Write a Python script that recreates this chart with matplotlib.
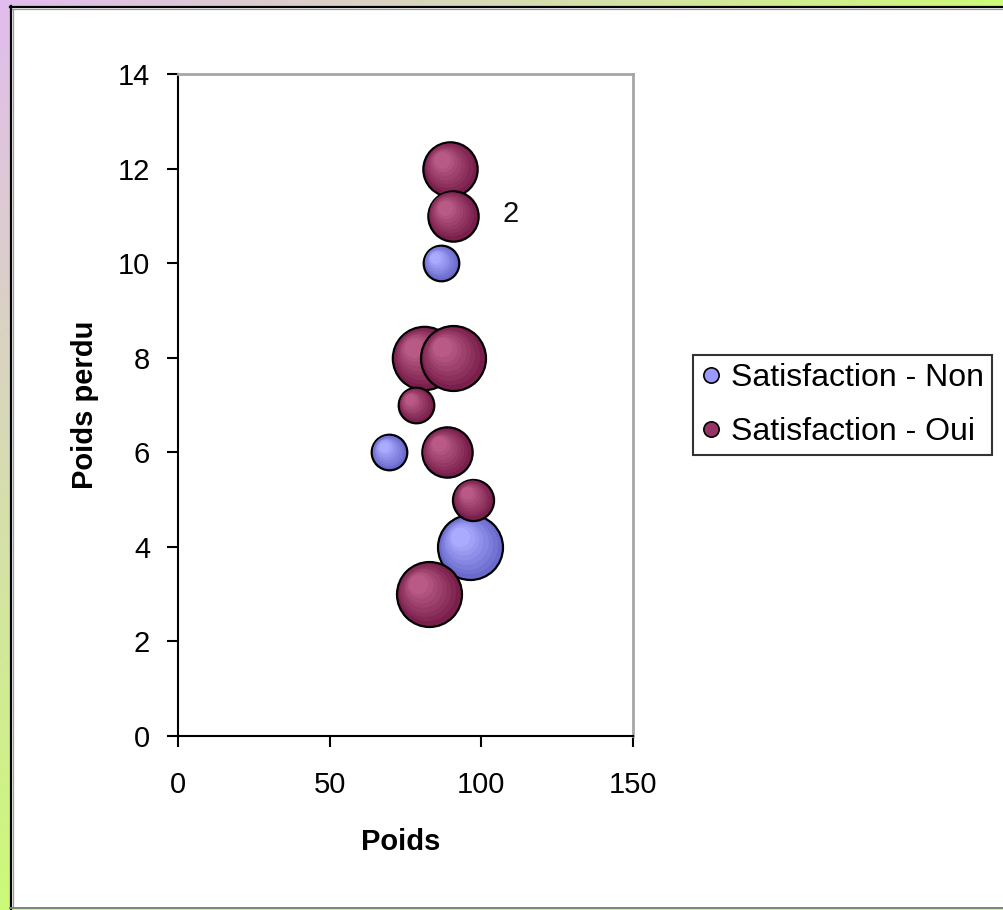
import numpy as np
import matplotlib
matplotlib.use("Agg")
import matplotlib.pyplot as plt
from matplotlib.colors import to_rgb
from matplotlib.lines import Line2D
from matplotlib.transforms import offset_copy

plt.rcParams['font.family'] = ['Liberation Sans', 'DejaVu Sans']

# --- données ---
poids_non = [86.7, 69.7, 96.4]
perdu_non = [10, 6, 4]
taille_non = [3, 3, 10]

poids_oui = [89.7, 90.5, 81.0, 90.5, 78.3, 88.6, 97.4, 82.6]
perdu_oui = [12, 11, 8, 8, 7, 6, 5, 3]
taille_oui = [7, 6, 9.5, 10, 3, 6, 4, 10]

noms = ['Satisfaction - Non', 'Satisfaction - Oui']
xticks = [0, 50, 100, 150]
yticks = [0, 2, 4, 6, 8, 10, 12, 14]

ECHELLE = 219  # points^2 par unité de taille

W, H = 1004, 910
fig = plt.figure(figsize=(W / 100, H / 100), dpi=100)

# fond dégradé violet -> vert + cadre blanc
fond = fig.add_axes([0, 0, 1, 1])
fond.set_xlim(0, W)
fond.set_ylim(H, 0)
fond.axis('off')
xx, yy = np.meshgrid(np.linspace(0, 1, 200), np.linspace(0, 1, 200))
t = np.clip(xx + yy, 0, 1)[..., None]
violet = np.array(to_rgb('#e2bcee'))
vert = np.array(to_rgb('#ccfa78'))
fond.imshow(violet * (1 - t) + vert * t, extent=(0, W, H, 0), aspect='auto', zorder=0)
fond.add_patch(plt.Rectangle((10, 6), W, 903, facecolor='white', edgecolor='none', zorder=1))
fond.plot([11, 11], [6, 909], color='black', lw=1.6, zorder=2)
fond.plot([10, W], [7, 7], color='black', lw=1.6, zorder=2)
fond.plot([12.8, 12.8], [9, 907], color='#9a9a9a', lw=0.9, zorder=2)
fond.plot([12, W], [8.8, 8.8], color='#9a9a9a', lw=0.9, zorder=2)
fond.plot([10, W], [908, 908], color='#808080', lw=1.4, zorder=2)

ax = fig.add_axes([178 / W, 1 - 736 / H, 455 / W, 662 / H])
ax.set_facecolor('none')


def melange(c1, c2, a):
    return tuple(np.array(to_rgb(c1)) * (1 - a) + np.array(to_rgb(c2)) * a)


def bulles(x, y, tailles, sombre, clair, z0):
    for i, (xi, yi, ti) in enumerate(zip(x, y, tailles)):
        s = ti * ECHELLE
        r = np.sqrt(s) / 2
        z = z0 + i * 0.01
        ax.scatter([xi], [yi], s=s, color=sombre, edgecolors='black', linewidths=1.6, zorder=z)
        # effet 3D : couches plus claires décalées vers le haut à gauche
        for k, f in enumerate(np.linspace(0.88, 0.3, 7)):
            d = (1 - f) * 0.45 * r
            tr = offset_copy(ax.transData, fig=fig, x=-d, y=d, units='points')
            ax.scatter([xi], [yi], s=s * f * f, color=melange(sombre, clair, (k + 1) / 7),
                       linewidths=0, transform=tr, zorder=z + 0.001)


bulles(poids_non, perdu_non, taille_non, '#6a6acc', '#aaaaff', 2)
bulles(poids_oui, perdu_oui, taille_oui, '#7a1f4c', '#b85a85', 3)

ax.text(109.8, 11.04, '2', fontsize=21, ha='center', va='center', color='#111111')

ax.set_xlim(0, 150)
ax.set_ylim(0, 14)
ax.set_xticks(xticks)
ax.set_yticks(yticks)
ax.tick_params(direction='out', length=8, width=1.5, labelsize=21, pad=12, colors='black')
ax.tick_params(axis='x', pad=17)
for cote in ['left', 'bottom']:
    ax.spines[cote].set_linewidth(1.5)
    ax.spines[cote].set_color('black')
for cote in ['top', 'right']:
    ax.spines[cote].set_linewidth(2)
    ax.spines[cote].set_color('#a6a6a6')

ax.set_xlabel('Poids', fontsize=21, fontweight='bold')
ax.set_ylabel('Poids perdu', fontsize=21, fontweight='bold')
ax.xaxis.set_label_coords(0.49, -0.139)
ax.yaxis.set_label_coords(-0.173, 0.5)

poignees = [
    Line2D([], [], ls='none', marker='o', markersize=11, markerfacecolor='#9999ff',
           markeredgecolor='black', markeredgewidth=1.2),
    Line2D([], [], ls='none', marker='o', markersize=11, markerfacecolor='#993366',
           markeredgecolor='black', markeredgewidth=1.2),
]
leg = fig.legend(poignees, noms, loc='center left', bbox_to_anchor=(693 / W, 1 - 405 / H),
                 fontsize=23, frameon=True, fancybox=False, handlelength=0.6,
                 handletextpad=0.35, borderpad=0.25, labelspacing=0.75, borderaxespad=0)
leg.get_frame().set_edgecolor('black')
leg.get_frame().set_linewidth(1.5)

fig.savefig('out.png', dpi=100)
